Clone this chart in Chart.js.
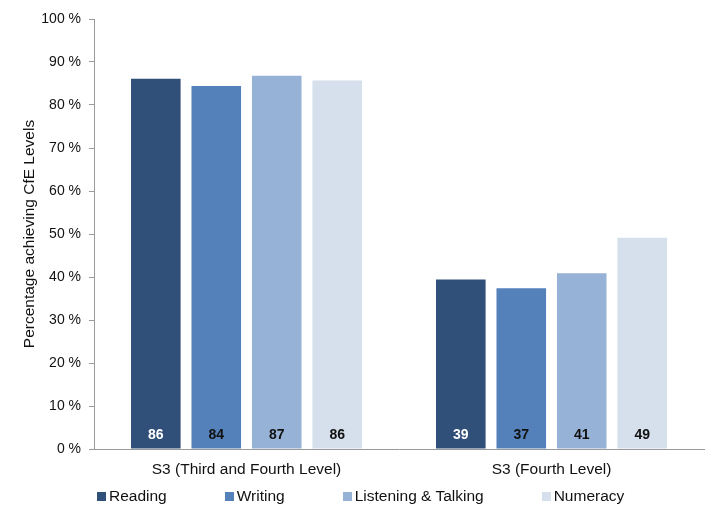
<!DOCTYPE html>
<html>
<head>
<meta charset="utf-8">
<script src="https://cdn.jsdelivr.net/npm/chart.js@4"></script>
<style>
  html, body { margin: 0; padding: 0; background: #fff; }
  #wrap { position: relative; width: 716px; height: 516px; }
  #legend {
    position: absolute; left: 97px; top: 487px;
    display: flex; gap: 58px;
    font: 15.5px "Liberation Sans", Arial, sans-serif; color: #111;
  }
  #legend span.item { display: flex; align-items: center; white-space: nowrap; }
  #legend span.box { display: inline-block; width: 9px; height: 9px; margin-right: 3px; }
</style>
</head>
<body>
<div id="wrap">
  <canvas id="chart" width="716" height="516"></canvas>
  <div id="legend"></div>
</div>
<script>
var categories = ["S3 (Third and Fourth Level)", "S3 (Fourth Level)"];
var seriesNames = ["Reading", "Writing", "Listening & Talking", "Numeracy"];
var reading = [86.1, 39.4];
var writing = [84.4, 37.4];
var listening = [86.8, 40.9];
var numeracy = [85.7, 49.1];
var yTicks = [0, 10, 20, 30, 40, 50, 60, 70, 80, 90, 100];

var colors = ["#30507a", "#5581bb", "#96b2d6", "#d6e0ed"];
var labelColors = ["#ffffff", "#111111", "#111111", "#111111"];
var FONT = "'Liberation Sans', Arial, sans-serif";

///value labels at the foot of each bar
var barLabels = {
  id: "barLabels",
  afterDatasetsDraw: function (chart) {
    var ctx = chart.ctx;
    ctx.save();
    ctx.font = "bold 14px " + FONT;
    ctx.textAlign = "center";
    ctx.textBaseline = "middle";
    chart.data.datasets.forEach(function (ds, i) {
      var meta = chart.getDatasetMeta(i);
      meta.data.forEach(function (bar, j) {
        ctx.fillStyle = labelColors[i];
        ctx.fillText(Math.round(ds.data[j]), bar.x, bar.base - 13);
      });
    });
    ctx.restore();
  },
};

var allData = [reading, writing, listening, numeracy];
var datasets = seriesNames.map(function (name, i) {
  return {
    label: name,
    data: allData[i],
    backgroundColor: colors[i],
    borderWidth: 0,
    barPercentage: 0.82,
    categoryPercentage: 0.793,
  };
});

///html legend
var legend = document.getElementById("legend");
seriesNames.forEach(function (name, i) {
  var item = document.createElement("span");
  item.className = "item";
  var box = document.createElement("span");
  box.className = "box";
  box.style.background = colors[i];
  item.appendChild(box);
  item.appendChild(document.createTextNode(name));
  legend.appendChild(item);
});

var mychart = new Chart(document.getElementById("chart"), {
  type: "bar",
  data: { labels: categories, datasets: datasets },
  plugins: [barLabels],
  options: {
    responsive: false,
    animation: false,
    layout: { padding: { left: 0, right: 12, top: 19, bottom: 27 } },
    plugins: {
      legend: { display: false },
      tooltip: { enabled: false },
    },
    scales: {
      x: {
        grid: { display: false },
        border: { display: true, color: "#9a9a9a", width: 1 },
        ticks: {
          color: "#111",
          padding: 3,
          font: { family: FONT, size: 15.5 },
        },
        afterFit: function (scale) {
          scale.height = 40;
        },
      },
      y: {
        min: 0,
        max: 100,
        afterBuildTicks: function (scale) {
          scale.ticks = yTicks.map(function (v) {
            return { value: v };
          });
        },
        ticks: {
          color: "#111",
          padding: 8,
          font: { family: FONT, size: 14 },
          callback: function (v) {
            return v + " %";
          },
        },
        grid: {
          display: true,
          drawOnChartArea: false,
          drawTicks: true,
          tickLength: 5,
          color: "#9a9a9a",
        },
        border: { display: true, color: "#9a9a9a", width: 1 },
        title: {
          display: true,
          text: "Percentage achieving CfE Levels",
          color: "#111",
          font: { family: FONT, size: 15.5 },
          padding: { top: 20, bottom: 0 },
        },
        afterFit: function (scale) {
          scale.width = 94;
        },
      },
    },
  },
});
</script>
</body>
</html>
